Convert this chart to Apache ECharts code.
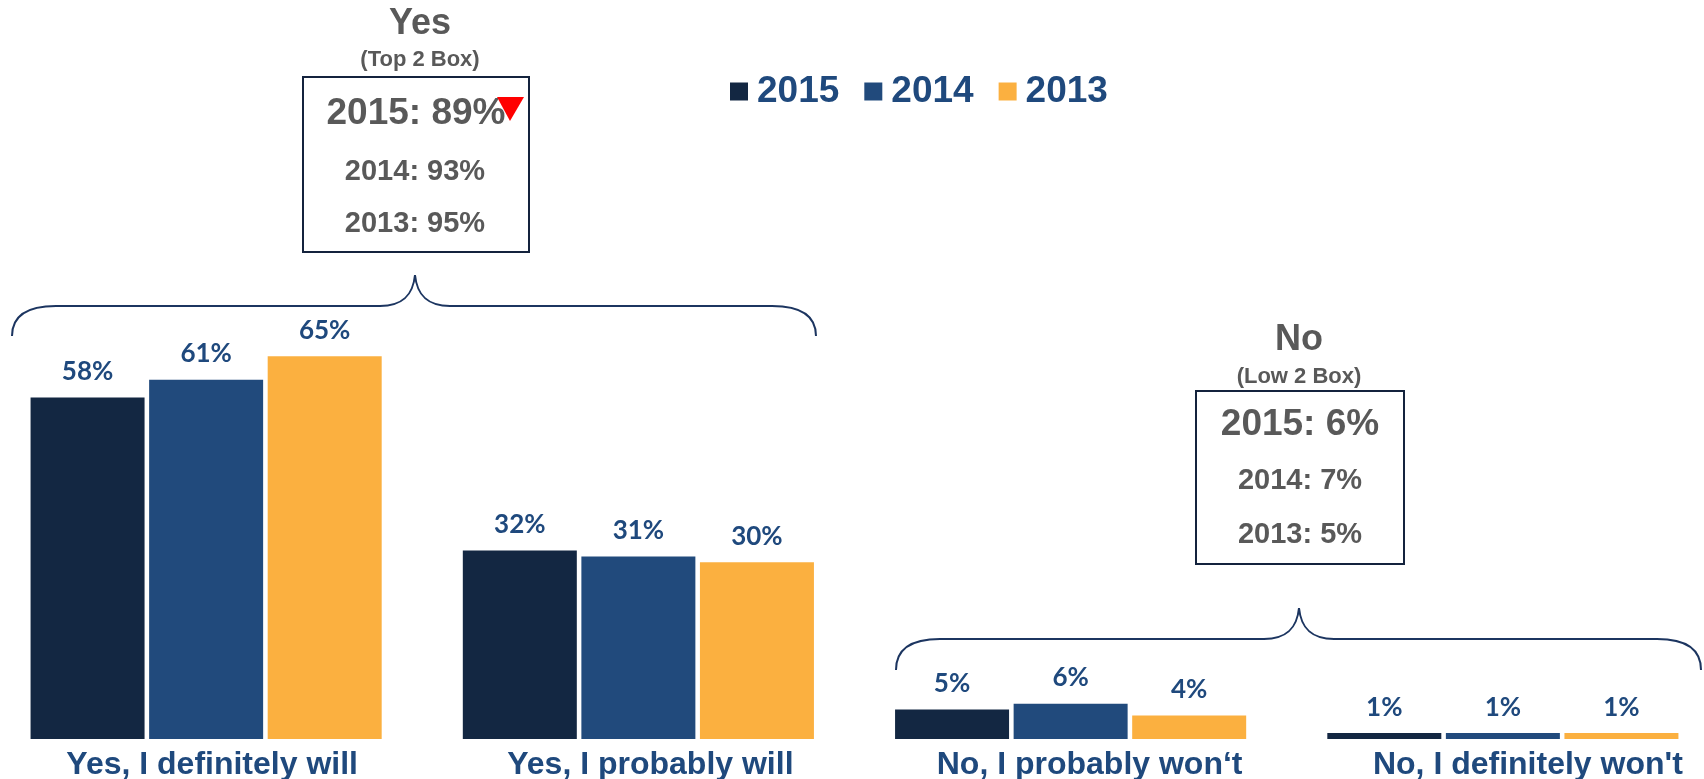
<!DOCTYPE html>
<html><head><meta charset="utf-8">
<script src="https://cdn.jsdelivr.net/npm/echarts@6/dist/echarts.min.js"></script>
<style>html,body{margin:0;padding:0;background:#fff}#c{width:1704px;height:779px}</style>
</head><body><div id="c"></div>
<script>
// ---- data ----
const categories = ['Yes, I definitely will', 'Yes, I probably will', 'No, I probably won‘t', "No, I definitely won't"];
const seriesNames = ['2015', '2014', '2013'];
const values2015 = [58, 32, 5, 1];
const values2014 = [61, 31, 6, 1];
const values2013 = [65, 30, 4, 1];
const topTitle = 'Yes';
const topSub = '(Top 2 Box)';
const topLines = ['2015: 89%', '2014: 93%', '2013: 95%'];
const lowTitle = 'No';
const lowSub = '(Low 2 Box)';
const lowLines = ['2015: 6%', '2014: 7%', '2013: 5%'];

// ---- styles ----
const colors = ['#132742', '#214a7c', '#fbb040'];
const navyText = '#1f497d';
const grayText = '#595959';
const braceColor = '#1c3560';
const labelShift = [12, 24, 38, 50];
const AR = '"Liberation Sans", Arial, sans-serif';

function txt(text, x, y, size, color) {
  return { type: 'text', z: 10, style: { text: text, x: x, y: y, fill: color,
    font: 'bold ' + size + 'px ' + AR, align: 'center', verticalAlign: 'middle',
    textAlign: 'center', textVerticalAlign: 'middle' } };
}
function bez(x1, y1, c1x, c1y, c2x, c2y, x2, y2) {
  return { type: 'bezierCurve', z: 10, shape: { x1: x1, y1: y1, cpx1: c1x, cpy1: c1y, cpx2: c2x, cpy2: c2y, x2: x2, y2: y2 },
    style: { fill: 'none', stroke: braceColor, lineWidth: 2 } };
}
function ln(x1, y1, x2, y2) {
  return { type: 'line', z: 10, shape: { x1: x1, y1: y1, x2: x2, y2: y2 }, style: { stroke: braceColor, lineWidth: 2 } };
}
function brace(xl, xr, xm, yh, yp, ye) {
  return [
    bez(xl, ye, xl, ye - 20, xl + 14, yh, xl + 44, yh),
    ln(xl + 44, yh, xm - 35, yh),
    bez(xm - 35, yh, xm - 12, yh, xm - 2, yh - 11, xm, yp),
    bez(xm, yp, xm + 2, yh - 11, xm + 12, yh, xm + 35, yh),
    ln(xm + 35, yh, xr - 44, yh),
    bez(xr - 44, yh, xr - 14, yh, xr, ye - 20, xr, ye)
  ];
}
function box(x, y, w, h) {
  return { type: 'rect', z: 10, shape: { x: x, y: y, width: w, height: h },
    style: { fill: 'none', stroke: '#14233d', lineWidth: 2 } };
}

const graphics = [].concat(
  [txt(topTitle, 420, 24, 36, grayText), txt(topSub, 420, 60, 22, grayText),
   box(303, 77, 226, 175),
   txt(topLines[0], 416, 114, 37, grayText), txt(topLines[1], 415, 172, 29, grayText), txt(topLines[2], 415, 224, 29, grayText),
   { type: 'polygon', z: 11, shape: { points: [[497, 97], [524, 97], [510, 121]] }, style: { fill: '#ff0000' } },
   txt(lowTitle, 1299, 340, 36, grayText), txt(lowSub, 1299, 377, 22, grayText),
   box(1196, 391, 208, 173),
   txt(lowLines[0], 1300, 425, 37, grayText), txt(lowLines[1], 1300, 481, 29, grayText), txt(lowLines[2], 1300, 535, 29, grayText)],
  brace(12, 816, 415, 306, 275, 336),
  brace(896, 1701, 1299, 639, 608, 670)
);

const seriesValues = [values2015, values2014, values2013];
const chart = echarts.init(document.getElementById('c'));
chart.setOption({
  animation: false,
  legend: {
    data: seriesNames, left: 725, top: 68, icon: 'rect', itemWidth: 18, itemHeight: 18, itemGap: 25,
    textStyle: { fontSize: 37, fontWeight: 'bold', color: navyText, fontFamily: AR, padding: [0, 0, 0, 4] }
  },
  grid: { left: -10, right: -15, top: 150, bottom: 40, containLabel: false, outerBoundsMode: 'none' },
  xAxis: {
    type: 'category',
    data: categories.map((c, i) => ({ value: c, textStyle: { padding: [0, 0, 0, labelShift[i]] } })),
    axisLine: { show: false }, axisTick: { show: false },
    axisLabel: { margin: 10, fontSize: 32, fontWeight: 'bold', color: navyText, fontFamily: AR, interval: 0 }
  },
  yAxis: { type: 'value', min: 0, max: 100, show: false, splitLine: { show: false } },
  series: seriesNames.map((n, i) => ({
    name: n, type: 'bar', data: seriesValues[i], barWidth: 114, barGap: '4%',
    itemStyle: { color: colors[i] },
    label: { show: true, position: 'top', distance: 13, formatter: '{c}%',
      fontSize: 26, fontWeight: 'bold', color: navyText, fontFamily: 'Lato, sans-serif' }
  })),
  graphic: { elements: graphics }
});
</script></body></html>
